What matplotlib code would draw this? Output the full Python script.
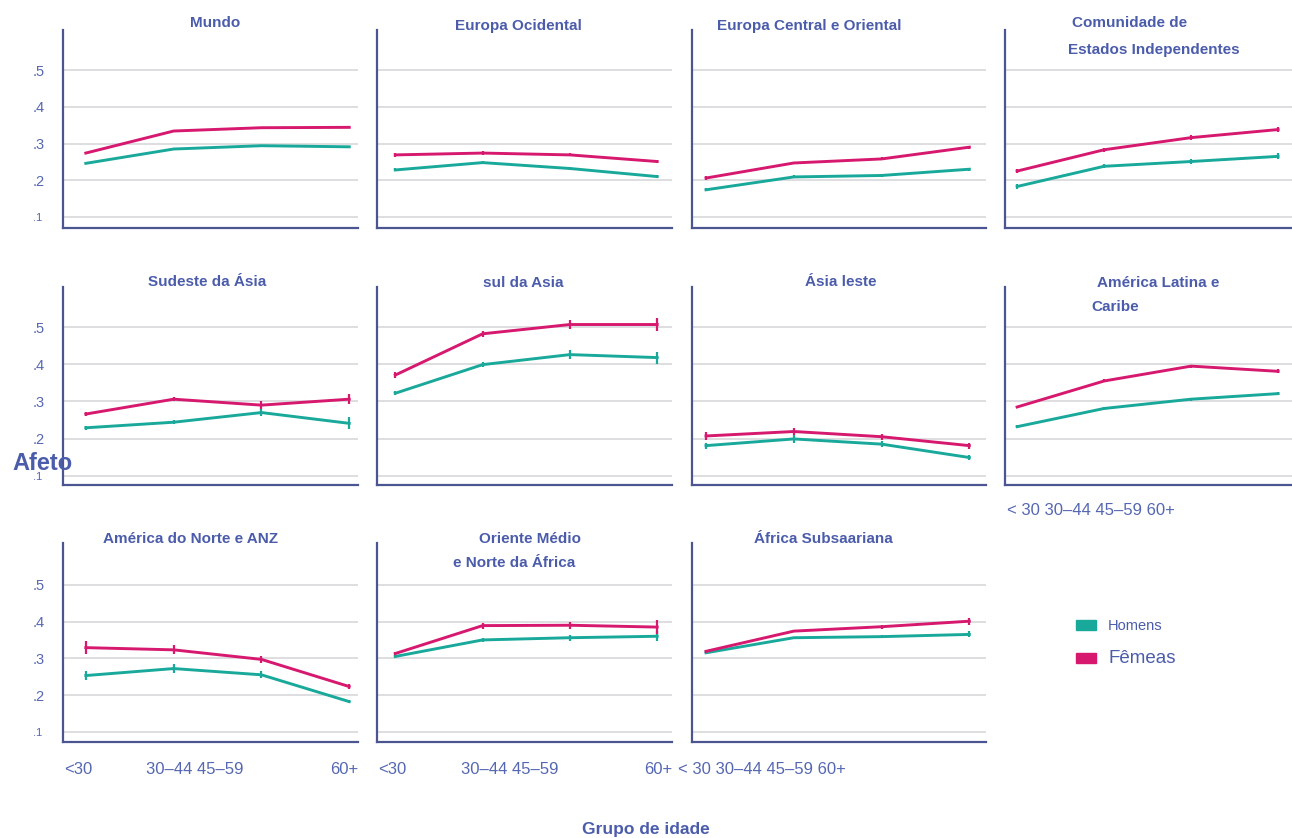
import matplotlib
matplotlib.use("Agg")
import matplotlib.pyplot as plt
from matplotlib.patches import Patch

plt.rcParams['font.family'] = ['Liberation Sans', 'DejaVu Sans']

# --- data -----------------------------------------------------------------
age_groups = ["<30", "30–44", "45–59", "60+"]

regions = [
    ["Mundo"],
    ["Europa Ocidental"],
    ["Europa Central e Oriental"],
    ["Comunidade de", "Estados Independentes"],
    ["Sudeste da Ásia"],
    ["sul da Asia"],
    ["Ásia leste"],
    ["América Latina e", "Caribe"],
    ["América do Norte e ANZ"],
    ["Oriente Médio", "e Norte da África"],
    ["África Subsaariana"],
]

homens = [
    [0.246, 0.285, 0.294, 0.291],
    [0.228, 0.248, 0.232, 0.210],
    [0.174, 0.209, 0.213, 0.230],
    [0.183, 0.238, 0.251, 0.265],
    [0.229, 0.244, 0.270, 0.241],
    [0.322, 0.399, 0.426, 0.418],
    [0.181, 0.199, 0.185, 0.149],
    [0.232, 0.281, 0.306, 0.321],
    [0.253, 0.272, 0.255, 0.182],
    [0.305, 0.350, 0.356, 0.360],
    [0.315, 0.356, 0.359, 0.365],
]

femeas = [
    [0.274, 0.334, 0.343, 0.344],
    [0.269, 0.274, 0.269, 0.251],
    [0.206, 0.247, 0.258, 0.290],
    [0.225, 0.283, 0.316, 0.338],
    [0.266, 0.306, 0.290, 0.306],
    [0.371, 0.482, 0.507, 0.507],
    [0.207, 0.219, 0.205, 0.181],
    [0.285, 0.355, 0.395, 0.381],
    [0.329, 0.323, 0.297, 0.223],
    [0.313, 0.389, 0.390, 0.385],
    [0.319, 0.374, 0.386, 0.401],
]

homens_err = [
    [0.002, 0.002, 0.002, 0.002],
    [0.004, 0.004, 0.003, 0.003],
    [0.004, 0.004, 0.004, 0.004],
    [0.008, 0.006, 0.008, 0.008],
    [0.005, 0.005, 0.010, 0.016],
    [0.006, 0.006, 0.012, 0.016],
    [0.008, 0.010, 0.008, 0.006],
    [0.004, 0.004, 0.004, 0.005],
    [0.012, 0.012, 0.010, 0.005],
    [0.004, 0.006, 0.008, 0.014],
    [0.003, 0.003, 0.004, 0.008],
]

femeas_err = [
    [0.002, 0.002, 0.002, 0.002],
    [0.005, 0.005, 0.004, 0.004],
    [0.005, 0.004, 0.004, 0.004],
    [0.006, 0.006, 0.007, 0.008],
    [0.006, 0.006, 0.010, 0.014],
    [0.008, 0.008, 0.012, 0.018],
    [0.010, 0.010, 0.008, 0.008],
    [0.004, 0.004, 0.004, 0.005],
    [0.018, 0.012, 0.010, 0.006],
    [0.005, 0.008, 0.010, 0.018],
    [0.004, 0.003, 0.005, 0.010],
]

y_ticks = [0.1, 0.2, 0.3, 0.4, 0.5]
y_tick_labels = [".1", ".2", ".3", ".4", ".5"]

# --- style ----------------------------------------------------------------
TEAL = "#19a99b"
PINK = "#d6196f"
TITLE_BLUE = "#4b5cab"
TICK_BLUE = "#5567b2"
SPINE = "#4b5591"
GRID = "#d4d4d8"

W, H = 1292, 838
fig = plt.figure(figsize=(W / 100, H / 100), dpi=100)
fig.patch.set_facecolor("white")


def fx(px):
    return px / W


def fy(py):
    return 1 - py / H


col_left = [63, 377, 692, 1005]
col_right = [358, 672, 986, 1292]
col_xlim = [(-0.26, 3.10), (-0.21, 3.17), (-0.16, 3.19), (-0.14, 3.16)]
row_top = [30, 287, 543]
row_bottom = [228, 485, 742]
row_ylim = [(0.070, 0.609), (0.075, 0.608), (0.072, 0.614)]

# title anchor points (centre x, baseline y) for each line of each title
title_pos = [
    [(215, 27)],
    [(518, 30)],
    [(809, 30)],
    [(1130, 27), (1154, 54)],
    [(207, 286)],
    [(523, 287)],
    [(841, 286)],
    [(1158, 287), (1115, 311)],
    [(191, 543)],
    [(530, 543), (514, 567)],
    [(823, 543)],
]

x = list(range(len(age_groups)))

for i, name in enumerate(regions):
    r, c = divmod(i, 4)
    ax = fig.add_axes([fx(col_left[c]), fy(row_bottom[r]),
                       fx(col_right[c] - col_left[c]),
                       (row_bottom[r] - row_top[r]) / H])
    ax.set_xlim(*col_xlim[c])
    ax.set_ylim(*row_ylim[r])

    for s in ("top", "right"):
        ax.spines[s].set_visible(False)
    for s in ("left", "bottom"):
        ax.spines[s].set_color(SPINE)
        ax.spines[s].set_linewidth(1.6)

    ax.set_yticks(y_ticks)
    ax.grid(axis="y", color=GRID, linewidth=1.1)
    ax.set_axisbelow(True)
    ax.set_xticks([])
    ax.tick_params(axis="y", length=0, pad=21.6, colors=TICK_BLUE)
    if c == 0:
        ax.set_yticklabels(y_tick_labels)
        for lab in ax.get_yticklabels():
            lab.set_horizontalalignment("left")
            lab.set_fontsize(10.5)
            lab.set_color(TICK_BLUE)
        ax.get_yticklabels()[0].set_fontsize(8)
    else:
        ax.set_yticklabels([])

    ax.errorbar(x, homens[i], yerr=homens_err[i], color=TEAL, lw=2.1,
                elinewidth=1.6, capsize=0, zorder=3)
    ax.errorbar(x, femeas[i], yerr=femeas_err[i], color=PINK, lw=2.1,
                elinewidth=1.6, capsize=0, zorder=4)

    for line, (tx, ty) in zip(name, title_pos[i]):
        fig.text(fx(tx), fy(ty), line, ha="center", va="baseline",
                 fontsize=11, fontweight="bold", color=TITLE_BLUE)

# age-group labels under the panels
tick_kw = dict(fontsize=12, color=TICK_BLUE, va="baseline")
fig.text(fx(78), fy(774), age_groups[0], ha="center", **tick_kw)
fig.text(fx(195), fy(774), f"{age_groups[1]} {age_groups[2]}", ha="center", **tick_kw)
fig.text(fx(358), fy(774), age_groups[3], ha="right", **tick_kw)
fig.text(fx(392), fy(774), age_groups[0], ha="center", **tick_kw)
fig.text(fx(510), fy(774), f"{age_groups[1]} {age_groups[2]}", ha="center", **tick_kw)
fig.text(fx(672), fy(774), age_groups[3], ha="right", **tick_kw)
row_label = "< 30 " + " ".join(age_groups[1:])
fig.text(fx(678), fy(774), row_label, ha="left", **tick_kw)
fig.text(fx(1007), fy(515), row_label, ha="left", **tick_kw)

# axis titles
fig.text(fx(42), fy(470), "Afeto", ha="center", va="baseline",
         fontsize=17, fontweight="bold", color=TITLE_BLUE)
fig.text(fx(646), fy(834), "Grupo de idade", ha="center", va="baseline",
         fontsize=12.5, fontweight="bold", color=TITLE_BLUE)

# legend
handles = [Patch(facecolor=TEAL, edgecolor=TEAL),
           Patch(facecolor=PINK, edgecolor=PINK)]
leg = fig.legend(handles, ["Homens", "Fêmeas"], loc="upper left",
                 bbox_to_anchor=(fx(1063), fy(606)), frameon=False,
                 handlelength=1.35, handleheight=0.7, handletextpad=0.85,
                 labelspacing=1.15, fontsize=10.5)
for t in leg.get_texts():
    t.set_color(TITLE_BLUE)
leg.get_texts()[1].set_fontsize(13.5)

fig.savefig("out.png", dpi=100, facecolor="white")
